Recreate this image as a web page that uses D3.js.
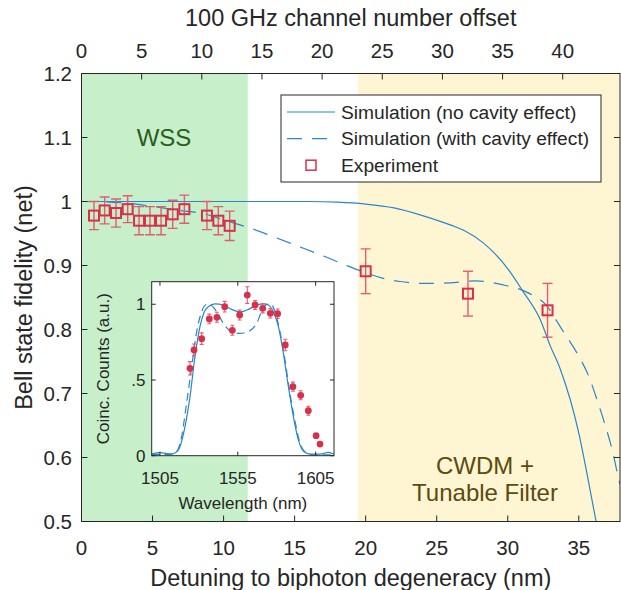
<!DOCTYPE html>
<html>
<head>
<meta charset="utf-8">
<script src="https://cdn.jsdelivr.net/npm/d3@7"></script>
<style>
  body { margin: 0; background: #fff; }
  text { font-family: "Liberation Sans", Arial, sans-serif; fill: #262626; }
</style>
</head>
<body>
<div id="wrapper"></div>
<script>
const width = 621,
    height = 590;

// experiment (main axes)
const expNm  = [0.88, 1.63, 2.43, 3.25, 4.05, 4.82, 5.60, 6.42, 7.24, 8.83, 9.63, 10.43, 20.0, 27.2, 32.8];
const expFid = [0.978, 0.986, 0.982, 0.988, 0.970, 0.970, 0.970, 0.980, 0.988, 0.978, 0.970, 0.962, 0.891, 0.856, 0.830];
const expErr = [0.022, 0.021, 0.022, 0.021, 0.022, 0.022, 0.022, 0.022, 0.022, 0.022, 0.022, 0.023, 0.035, 0.035, 0.042];

// simulation without cavity effect
const simNm  = [0, 16, 18, 20, 22, 24, 26, 27, 28.3, 30.2, 31.0, 32.3, 33.0, 33.7, 35.0, 35.6, 36.2, 36.4];
const simFid = [1.0, 1.0, 0.999, 0.996, 0.990, 0.978, 0.963, 0.954, 0.935, 0.889, 0.862, 0.815, 0.774, 0.738, 0.638, 0.572, 0.502, 0.478];

// simulation with cavity effect
const cavNm  = [0, 0.8, 3.35, 4.82, 6.94, 8.56, 10.46, 11.94, 13.5, 15.5, 17.0, 18.77, 19.96, 21.23, 22.43, 24.19, 25.95, 27.78, 29.6, 31.37, 32.7, 33.87, 34.9, 35.7, 36.3, 36.85, 37.35, 37.8, 37.9];
const cavFid = [1.0, 1.0, 0.997, 0.993, 0.986, 0.981, 0.968, 0.958, 0.945, 0.928, 0.915, 0.899, 0.889, 0.880, 0.875, 0.872, 0.873, 0.876, 0.870, 0.858, 0.838, 0.798, 0.762, 0.727, 0.689, 0.651, 0.612, 0.567, 0.558];

// filter regions (nm)
const wssRange  = [0, 11.7];
const cwdmRange = [19.45, 37.9];

// inset: coincidence counts vs wavelength
const insLam = [1524.3, 1526.9, 1531.8, 1536.7, 1541.6, 1546.6, 1551.5, 1556.2, 1561.1, 1566.1, 1571.0, 1575.9, 1580.6, 1585.5, 1590.4, 1595.4, 1600.3, 1605.3, 1607.8];
const insCnt = [0.577, 0.698, 0.773, 0.903, 0.914, 0.984, 0.828, 0.929, 1.061, 0.995, 0.973, 0.940, 0.938, 0.731, 0.456, 0.399, 0.297, 0.132, 0.077];
const insErr = [0.044, 0.040, 0.038, 0.032, 0.033, 0.035, 0.033, 0.033, 0.055, 0.030, 0.030, 0.031, 0.031, 0.038, 0.030, 0.030, 0.030, 0.010, 0.008];

const insSimLam = [1499.6, 1505.0, 1512.5, 1516.8, 1521.1, 1524.3, 1527.5, 1530.7, 1533.3, 1536.1, 1540.3, 1545.7, 1551.1, 1556.4, 1561.8, 1567.1, 1571.8, 1574.6, 1577.8, 1581.1, 1584.3, 1587.5, 1590.7, 1593.9, 1597.1, 1601.4, 1607.8, 1613.2, 1616.8];
const insSimCnt = [0.011, 0.020, 0.011, 0.038, 0.192, 0.390, 0.654, 0.852, 0.945, 0.984, 1.002, 0.995, 0.966, 0.950, 0.966, 0.995, 1.002, 0.995, 0.950, 0.852, 0.676, 0.456, 0.258, 0.104, 0.031, 0.011, 0.011, 0.022, 0.011];

const insCavLam = [1499.6, 1511.4, 1515.7, 1518.9, 1522.1, 1525.4, 1528.6, 1531.8, 1535.0, 1537.6, 1541.4, 1545.7, 1550.0, 1556.4, 1562.8, 1567.1, 1570.3, 1573.6, 1576.1, 1578.9, 1582.1, 1585.3, 1588.5, 1591.8, 1595.0, 1599.3, 1603.5, 1616.8];
const insCavCnt = [0.009, 0.009, 0.027, 0.126, 0.346, 0.588, 0.819, 0.951, 0.999, 0.995, 0.951, 0.874, 0.826, 0.808, 0.826, 0.874, 0.951, 0.999, 1.002, 0.951, 0.819, 0.632, 0.412, 0.225, 0.082, 0.016, 0.005, 0.005];

const xTicks = [0, 5, 10, 15, 20, 25, 30, 35],
    chTicks = [0, 5, 10, 15, 20, 25, 30, 35, 40],
    yTicks = [0.5, 0.6, 0.7, 0.8, 0.9, 1, 1.1, 1.2],
    insXTicks = [1505, 1555, 1605],
    insYTicks = [0, 0.5, 1];

const legendLabels = ["Simulation (no cavity effect)", "Simulation (with cavity effect)", "Experiment"];

const blue = "#2a86c9", red = "#d8304a", redBar = "#e25d70", axisCol = "#262626";

const svg = d3.select("#wrapper")
    .append("svg")
    .attr("width", width)
    .attr("height", height);

const mLeft = 81.5, mRight = 620, mTop = 73.5, mBottom = 521.5;

const x = d3.scaleLinear().domain([0, 37.9]).range([mLeft, mRight]);
const xCh = d3.scaleLinear().domain([0, 44.76]).range([mLeft, mRight]);
const y = d3.scaleLinear().domain([0.5, 1.2]).range([mBottom, mTop]);

const defs = svg.append("defs");
defs.append("clipPath").attr("id", "clip")
    .append("rect").attr("x", mLeft).attr("y", mTop).attr("width", mRight - mLeft).attr("height", mBottom - mTop);

// shaded regions
svg.append("rect")
    .attr("x", x(wssRange[0])).attr("y", mTop)
    .attr("width", x(wssRange[1]) - x(wssRange[0])).attr("height", mBottom - mTop)
    .attr("fill", "#c6efca");
svg.append("rect")
    .attr("x", x(cwdmRange[0])).attr("y", mTop)
    .attr("width", x(cwdmRange[1]) - x(cwdmRange[0])).attr("height", mBottom - mTop)
    .attr("fill", "#fef6d3");

svg.append("text").attr("x", 164).attr("y", 146)
    .attr("text-anchor", "middle").style("font-size", "24px").style("fill", "#2b5d1a")
    .text("WSS");
svg.append("text").attr("x", 485).attr("y", 474)
    .attr("text-anchor", "middle").style("font-size", "24px").style("fill", "#5c4a0f")
    .text("CWDM +");
svg.append("text").attr("x", 485).attr("y", 501)
    .attr("text-anchor", "middle").style("font-size", "24px").style("fill", "#5c4a0f")
    .text("Tunable Filter");

// curves
const plot = svg.append("g").attr("clip-path", "url(#clip)");

const line = d3.line()
    .x(d => x(d[0]))
    .y(d => y(d[1]))
    .curve(d3.curveMonotoneX);

plot.append("path")
    .attr("d", line(d3.zip(simNm, simFid)))
    .attr("fill", "none").attr("stroke", blue).attr("stroke-width", 1.2);

plot.append("path")
    .attr("d", line(d3.zip(cavNm, cavFid)))
    .attr("fill", "none").attr("stroke", blue).attr("stroke-width", 1.2)
    .attr("stroke-dasharray", "15,10");

// experiment with error bars
const exp = plot.append("g").selectAll("g")
    .data(d3.zip(expNm, expFid, expErr))
    .enter().append("g");

exp.append("line")
    .attr("x1", d => x(d[0])).attr("x2", d => x(d[0]))
    .attr("y1", d => y(d[1] - d[2])).attr("y2", d => y(d[1] + d[2]))
    .attr("stroke", redBar).attr("stroke-width", 1.4);
[-1, 1].forEach(s => {
    exp.append("line")
        .attr("x1", d => x(d[0]) - 5).attr("x2", d => x(d[0]) + 5)
        .attr("y1", d => y(d[1] + s * d[2])).attr("y2", d => y(d[1] + s * d[2]))
        .attr("stroke", redBar).attr("stroke-width", 1.4);
});
exp.append("rect")
    .attr("x", d => x(d[0]) - 5).attr("y", d => y(d[1]) - 5)
    .attr("width", 10).attr("height", 10)
    .attr("fill", "none").attr("stroke", red).attr("stroke-width", 2);

// main axes: ticks inward on all four sides
const frame = svg.append("g").attr("stroke", axisCol).attr("stroke-width", 1);
frame.append("rect")
    .attr("x", mLeft).attr("y", mTop).attr("width", mRight - mLeft).attr("height", mBottom - mTop)
    .attr("fill", "none");

xTicks.forEach(t => {
    frame.append("line").attr("x1", x(t)).attr("x2", x(t)).attr("y1", mBottom).attr("y2", mBottom - 6);
});
chTicks.forEach(t => {
    frame.append("line").attr("x1", xCh(t)).attr("x2", xCh(t)).attr("y1", mTop).attr("y2", mTop + 6);
});
yTicks.forEach(t => {
    frame.append("line").attr("x1", mLeft).attr("x2", mLeft + 6).attr("y1", y(t)).attr("y2", y(t));
    frame.append("line").attr("x1", mRight).attr("x2", mRight - 6).attr("y1", y(t)).attr("y2", y(t));
});

svg.append("g").selectAll("text")
    .data(xTicks).enter().append("text")
    .attr("x", d => x(d)).attr("y", 555)
    .attr("text-anchor", "middle").style("font-size", "20.5px")
    .text(d => d);
svg.append("g").selectAll("text")
    .data(chTicks).enter().append("text")
    .attr("x", d => xCh(d)).attr("y", 57.5)
    .attr("text-anchor", "middle").style("font-size", "20.5px")
    .text(d => d);
svg.append("g").selectAll("text")
    .data(yTicks).enter().append("text")
    .attr("x", 72).attr("y", d => y(d) + 7.3)
    .attr("text-anchor", "end").style("font-size", "20.5px")
    .text(d => d3.format("")(d));

svg.append("text").attr("x", (mLeft + mRight) / 2).attr("y", 586)
    .attr("text-anchor", "middle").style("font-size", "23.5px")
    .text("Detuning to biphoton degeneracy (nm)");
svg.append("text").attr("x", (mLeft + mRight) / 2).attr("y", 26)
    .attr("text-anchor", "middle").style("font-size", "23.5px")
    .text("100 GHz channel number offset");
svg.append("text")
    .attr("transform", "translate(32," + y(0.85) + ") rotate(-90)")
    .attr("text-anchor", "middle").style("font-size", "23.5px")
    .text("Bell state fidelity (net)");

// legend
const legend = svg.append("g");
legend.append("rect")
    .attr("x", 281).attr("y", 95).attr("width", 320).attr("height", 87)
    .attr("fill", "#fff").attr("stroke", axisCol).attr("stroke-width", 1);
legendLabels.forEach((lab, i) => {
    const ly = 112 + i * 26.6;
    if (i < 2) {
        legend.append("line")
            .attr("x1", 287).attr("x2", 335).attr("y1", ly).attr("y2", ly)
            .attr("stroke", blue).attr("stroke-width", 1.2)
            .attr("stroke-dasharray", i === 1 ? "15,10" : null);
    } else {
        legend.append("rect")
            .attr("x", 306).attr("y", ly - 5).attr("width", 10).attr("height", 10)
            .attr("fill", "none").attr("stroke", red).attr("stroke-width", 1.5);
    }
    legend.append("text")
        .attr("x", 341).attr("y", ly + 6.5)
        .style("font-size", "19.2px")
        .text(lab);
});

// inset
const iLeft = 151.7, iRight = 334, iTop = 281.7, iBottom = 455.7;
const ix = d3.scaleLinear().domain([1499.7, 1616.8]).range([iLeft, iRight]);
const iy = d3.scaleLinear().domain([0, 1.149]).range([iBottom, iTop]);

const inset = svg.append("g");
inset.append("rect")
    .attr("x", iLeft).attr("y", iTop).attr("width", iRight - iLeft).attr("height", iBottom - iTop)
    .attr("fill", "#fff");

defs.append("clipPath").attr("id", "iclip")
    .append("rect").attr("x", iLeft).attr("y", iTop).attr("width", iRight - iLeft).attr("height", iBottom - iTop);

const iplot = inset.append("g").attr("clip-path", "url(#iclip)");
const iline = d3.line()
    .x(d => ix(d[0]))
    .y(d => iy(d[1]))
    .curve(d3.curveMonotoneX);

iplot.append("path")
    .attr("d", iline(d3.zip(insSimLam, insSimCnt)))
    .attr("fill", "none").attr("stroke", blue).attr("stroke-width", 1.2);
iplot.append("path")
    .attr("d", iline(d3.zip(insCavLam, insCavCnt)))
    .attr("fill", "none").attr("stroke", blue).attr("stroke-width", 1.2)
    .attr("stroke-dasharray", "8,5");

const ipts = iplot.append("g").selectAll("g")
    .data(d3.zip(insLam, insCnt, insErr))
    .enter().append("g");
ipts.append("line")
    .attr("x1", d => ix(d[0])).attr("x2", d => ix(d[0]))
    .attr("y1", d => iy(d[1] - d[2])).attr("y2", d => iy(d[1] + d[2]))
    .attr("stroke", redBar).attr("stroke-width", 1.1);
[-1, 1].forEach(s => {
    ipts.append("line")
        .attr("x1", d => ix(d[0]) - 2).attr("x2", d => ix(d[0]) + 2)
        .attr("y1", d => iy(d[1] + s * d[2])).attr("y2", d => iy(d[1] + s * d[2]))
        .attr("stroke", redBar).attr("stroke-width", 1.1);
});
ipts.append("circle")
    .attr("cx", d => ix(d[0])).attr("cy", d => iy(d[1]))
    .attr("r", 3.4).attr("fill", red);

const iframe = inset.append("g").attr("stroke", axisCol).attr("stroke-width", 1);
iframe.append("rect")
    .attr("x", iLeft).attr("y", iTop).attr("width", iRight - iLeft).attr("height", iBottom - iTop)
    .attr("fill", "none");
insXTicks.forEach(t => {
    iframe.append("line").attr("x1", ix(t)).attr("x2", ix(t)).attr("y1", iBottom).attr("y2", iBottom - 4);
    iframe.append("line").attr("x1", ix(t)).attr("x2", ix(t)).attr("y1", iTop).attr("y2", iTop + 4);
});
insYTicks.forEach(t => {
    iframe.append("line").attr("x1", iLeft).attr("x2", iLeft + 4).attr("y1", iy(t)).attr("y2", iy(t));
    iframe.append("line").attr("x1", iRight).attr("x2", iRight - 4).attr("y1", iy(t)).attr("y2", iy(t));
});

inset.append("g").selectAll("text")
    .data(insXTicks).enter().append("text")
    .attr("x", d => ix(d)).attr("y", 484)
    .attr("text-anchor", "middle").style("font-size", "17px")
    .text(d => d);
inset.append("g").selectAll("text")
    .data(insYTicks).enter().append("text")
    .attr("x", 145.5).attr("y", d => iy(d) + 6)
    .attr("text-anchor", "end").style("font-size", "17px")
    .text(d => d === 0.5 ? ".5" : d);

inset.append("text").attr("x", (iLeft + iRight) / 2).attr("y", 509)
    .attr("text-anchor", "middle").style("font-size", "17px")
    .text("Wavelength (nm)");
inset.append("text")
    .attr("transform", "translate(109," + (iTop + iBottom) / 2 + ") rotate(-90)")
    .attr("text-anchor", "middle").style("font-size", "17px")
    .text("Coinc. Counts (a.u.)");
</script>
</body>
</html>
